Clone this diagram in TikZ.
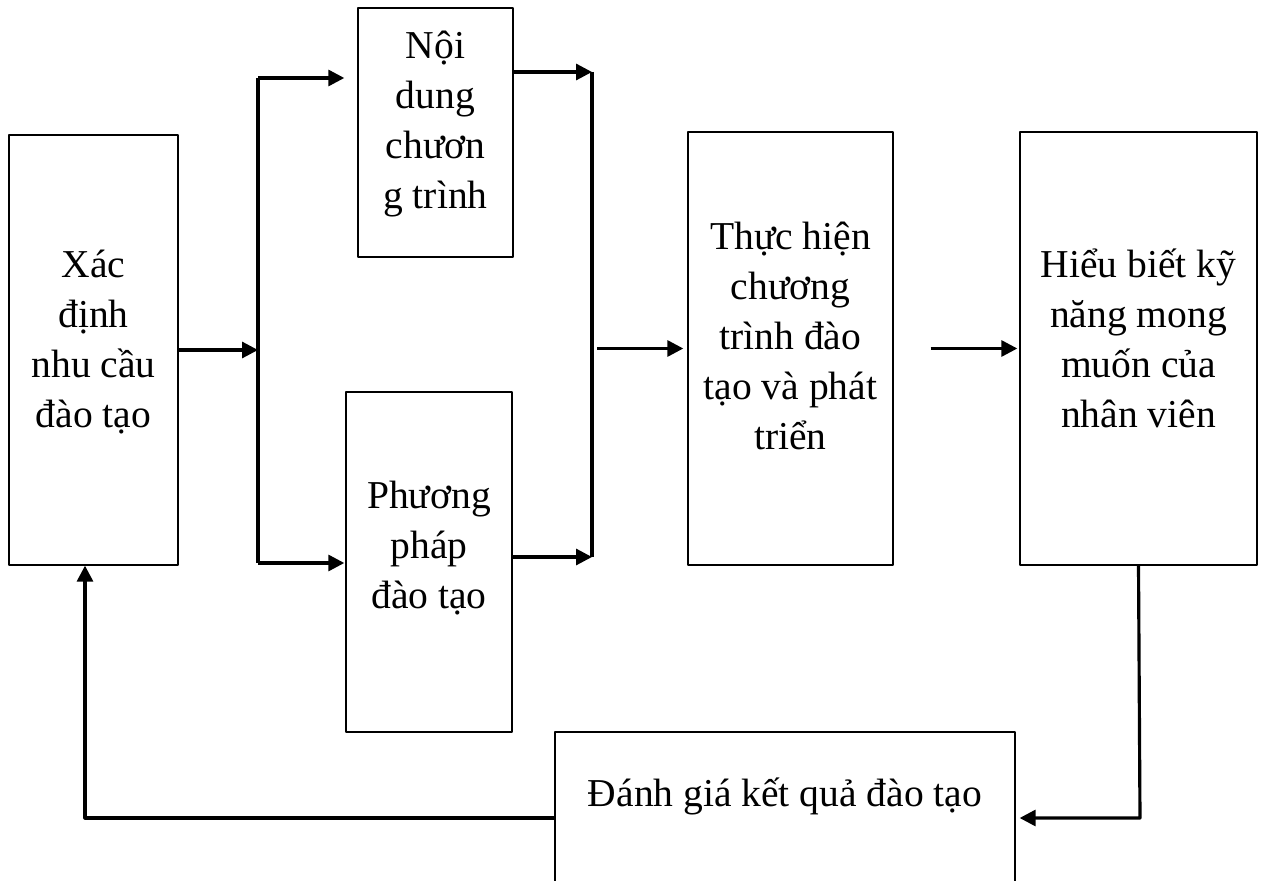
\documentclass[tikz,border=0pt]{standalone}
\usepackage{fontspec}
\setmainfont{Liberation Serif}
\usetikzlibrary{arrows.meta}
\tikzset{
  hop/.style={draw,line width=0.8pt,inner sep=0pt},
  chu/.style={align=center,font=\fontsize{22.5}{28.5}\selectfont,inner sep=0pt},
  ln/.style={line width=1.8pt}
}
\begin{document}
\begin{tikzpicture}[x=0.02cm,y=-0.02cm,line join=round,>={Triangle[length=3.2mm,width=3.2mm]}]
\useasboundingbox (0,0) rectangle (1261,881);
\node[hop,minimum width=3.38cm,minimum height=8.6cm] (xacdinh) at (93.5,350) {};
\node[hop,minimum width=3.1cm,minimum height=4.98cm] (noidung) at (435.5,132.5) {};
\node[hop,minimum width=3.32cm,minimum height=6.8cm] (phuongphap) at (429,562) {};
\node[hop,minimum width=4.1cm,minimum height=8.66cm] (thuchien) at (790.5,348.5) {};
\node[hop,minimum width=4.74cm,minimum height=8.66cm] (hieubiet) at (1138.5,348.5) {};
\node[hop,minimum width=9.2cm,minimum height=3.44cm] (danhgia) at (785,818) {};
\node[chu] (xacdinh-t) at (93.5,342) {Xác\\định\\nhu cầu\\đào tạo};
\node[chu] (noidung-t) at (435.5,124) {Nội\\dung\\chươn\\g trình};
\node[chu] (phuongphap-t) at (429,548) {Phương\\pháp\\đào tạo};
\node[chu] (thuchien-t) at (790.5,336) {Thực hiện\\chương\\trình đào\\tạo và phát\\triển};
\node[chu] (hieubiet-t) at (1138.5,338) {Hiểu biết kỹ\\năng mong\\muốn của\\nhân viên};
\node[chu] (danhgia-t) at (785,796) {Đánh giá kết quả đào tạo};
\coordinate (tachL) at (258,350);
\coordinate (tachLtren) at (258,78);
\coordinate (tachLduoi) at (258,563);
\coordinate (gopR) at (592,348.5);
\coordinate (gopRtren) at (592,72);
\coordinate (gopRduoi) at (592,557);
\coordinate (gocR) at (1140,818);
\coordinate (gocL) at (85,818);
\draw[ln,->] (xacdinh.east) -- (tachL);
\draw[ln] (tachLtren) -- (tachLduoi);
\draw[ln,->,shorten >=0.26cm] (tachLtren) -- (noidung.west |- tachLtren);
\draw[ln,->,shorten >=0.02cm] (tachLduoi) -- (phuongphap.west |- tachLduoi);
\draw[ln,->] (noidung.east |- gopRtren) -- (gopRtren);
\draw[ln,->] (phuongphap.east |- gopRduoi) -- (gopRduoi);
\draw[ln] (gopRtren) -- (gopRduoi);
\draw[ln,->,shorten <=0.1cm,shorten >=0.08cm] (gopR) -- (thuchien.west);
\draw[ln,->,shorten <=0.74cm,shorten >=0.04cm] (thuchien.east) -- (hieubiet.west);
\draw[ln,->,shorten >=0.08cm] (hieubiet.south) -- (gocR) -- (danhgia.east);
\draw[ln,->] (danhgia.west) -- (gocL) -- (xacdinh.south -| gocL);
\end{tikzpicture}
\end{document}
